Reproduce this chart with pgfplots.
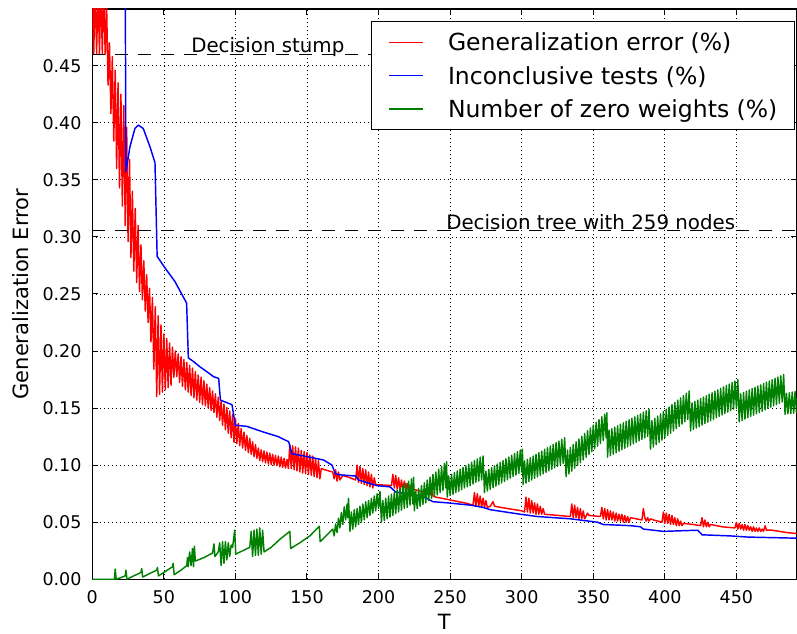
\documentclass[border=0pt]{standalone}
\usepackage{pgfplots}
\pgfplotsset{compat=1.18}
\usepackage{fontspec}
\setmainfont{DejaVu Sans}
\definecolor{mplgreen}{RGB}{0,128,0}
\definecolor{mplred}{RGB}{255,0,0}
\definecolor{mplblue}{RGB}{0,0,255}
\begin{document}
\begin{tikzpicture}
\useasboundingbox (0,0) rectangle (797bp,634bp);
\begin{axis}[
  at={(92.3bp,54.7bp)}, anchor=south west,
  scale only axis, width=704.2bp, height=570.3bp,
  xmin=0, xmax=492, ymin=0, ymax=0.4997,
  xtick={0,50,100,150,200,250,300,350,400,450},
  ytick={0,0.05,0.1,0.15,0.2,0.25,0.3,0.35,0.4,0.45},
  /pgf/number format/assume math mode=true,
  yticklabel style={/pgf/number format/.cd, fixed, fixed zerofill, precision=2, /tikz/.cd, anchor=east, inner sep=0pt, xshift=-10.6bp},
  xticklabel style={anchor=north, inner sep=0pt, yshift=-10.7bp},
  tick label style={font=\fontsize{17.5bp}{21bp}\selectfont},
  major tick length=6bp,
  tick style={black, line width=1bp},
  axis line style={black, line width=1.2bp},
  grid=major,
  major grid style={black, line width=0.7bp, dash pattern=on 1bp off 3bp},
  xlabel={T},
  xlabel style={at={(axis description cs:0.5,-0.0885)}, anchor=base, inner sep=0pt, font=\fontsize{21bp}{25bp}\selectfont},
  ylabel={Generalization Error},
  ylabel style={at={(axis description cs:-0.0913,0.5)}, anchor=base, inner sep=0pt, font=\fontsize{21bp}{25bp}\selectfont},
  every axis plot/.append style={line join=round},
  legend style={at={(1,1)}, anchor=north east, xshift=-1.5bp, yshift=-11.7bp,
    draw=black, line width=1.2bp, fill=white, inner xsep=17bp, inner ysep=9.5bp,
    font=\fontsize{23.5bp}{28bp}\selectfont, row sep=10.3bp, column sep=24.4bp,
    nodes={inner sep=0pt, text height=20bp, text depth=3bp, anchor=west},
    cells={anchor=west}},
  legend image code/.code={\draw[#1, line width=1.3bp] (0bp,0bp) -- (34bp,0bp);},
]
\addplot[mplred, line width=1.45bp] coordinates {
(0,0.52)(1,0.46)(2,0.52)(3,0.46)(4,0.52)(5,0.46)(6,0.52)(7,0.46)(8,0.52)(9,0.46)
(10,0.503)(11,0.433)(12,0.47)(13,0.408)(14,0.458)(15,0.384)(16,0.446)(17,0.36)(18,0.435)(19,0.343)(20,0.425)(21,0.327)(22,0.415)(23,0.31)
(24,0.396)(25,0.296)(26,0.368)(27,0.282)(28,0.34)(29,0.27)(30,0.325)(31,0.26)(32,0.31)(33,0.252)(34,0.293)(35,0.245)(36,0.279)(37,0.235)(38,0.267)(39,0.225)(40,0.255)(41,0.208)(42,0.247)(43,0.184)(44,0.239)(45,0.16)(46,0.231)(47,0.162)(48,0.223)(49,0.164)(50,0.215)(51,0.166)(52,0.211)(53,0.168)(54,0.207)(55,0.17)(56,0.2035)(57,0.177)(58,0.2)(59,0.1775)(60,0.1975)(61,0.1725)(62,0.195)
(63,0.169)(64,0.1925)(65,0.166)(66,0.19)(67,0.164)(68,0.1875)(69,0.161)(70,0.185)(71,0.159)(72,0.182)(73,0.157)(74,0.179)(75,0.155)(76,0.177)(77,0.153)(78,0.174)(79,0.152)(80,0.171)(81,0.15)(82,0.168)(83,0.148)(84,0.165)(85,0.146)(86,0.1625)(87,0.142)(88,0.1595)(89,0.139)(90,0.1565)(91,0.135)(92,0.1535)(93,0.131)(94,0.1505)(95,0.128)(96,0.1475)(97,0.124)(98,0.1445)(99,0.12)(100,0.141)(101,0.119)(102,0.1365)(103,0.117)(104,0.132)(105,0.115)(106,0.129)(107,0.113)(108,0.126)(109,0.111)(110,0.1235)(111,0.1095)(112,0.1205)(113,0.1075)(114,0.118)(115,0.106)(116,0.115)(117,0.104)
(118,0.1135)(119,0.103)(120,0.1125)(121,0.102)(122,0.1115)(123,0.101)(124,0.1105)(125,0.1005)(126,0.1095)(127,0.1)(128,0.1085)(129,0.0995)(130,0.108)(131,0.0985)(132,0.107)(133,0.098)(134,0.106)(135,0.0975)(136,0.105)(137,0.097)(138,0.118)(139,0.097)(140,0.117)(141,0.096)(142,0.116)(143,0.095)(144,0.115)(145,0.094)(146,0.113)(147,0.093)(148,0.112)(149,0.0925)(150,0.111)(151,0.092)(152,0.109)(153,0.091)(154,0.108)(155,0.09)(156,0.106)(157,0.089)(158,0.104)(159,0.088)
(160,0.097)(165,0.095)(168,0.094)(169,0.088)(170,0.096)(171,0.086)(172,0.094)(173,0.087)(175,0.091)(180,0.089)(184,0.087)
(185,0.1)(186,0.085)(187,0.099)(188,0.084)(189,0.097)(190,0.083)(191,0.096)(192,0.082)(193,0.094)(194,0.081)(195,0.092)(196,0.08)(197,0.089)(198,0.083)(205,0.0825)(209,0.082)
(210,0.092)(211,0.08)(212,0.091)(213,0.079)(214,0.089)(215,0.078)(216,0.087)(217,0.078)(218,0.086)(219,0.077)(220,0.084)(221,0.077)(222,0.082)(223,0.076)(224,0.079)(230,0.077)(236,0.074)(237,0.079)(238,0.073)(240,0.072)(250,0.0695)(260,0.067)(266,0.065)
(267,0.076)(268,0.064)(269,0.075)(270,0.064)(271,0.073)(272,0.063)(273,0.071)(274,0.063)(275,0.069)(276,0.063)(278,0.064)(280,0.068)(281,0.064)(290,0.062)(300,0.06)(302,0.059)
(303,0.072)(304,0.059)(305,0.071)(306,0.058)(307,0.069)(308,0.058)(309,0.067)(310,0.057)(311,0.066)(312,0.057)(313,0.064)(314,0.057)(315,0.062)(316,0.057)(325,0.056)(334,0.055)
(335,0.066)(336,0.054)(337,0.065)(338,0.054)(339,0.063)(340,0.053)(341,0.062)(342,0.053)(343,0.06)(344,0.053)(346,0.058)(347,0.056)(355,0.055)
(356,0.063)(357,0.053)(358,0.062)(359,0.052)(360,0.061)(361,0.052)(362,0.06)(363,0.052)(364,0.059)(365,0.051)(366,0.058)(367,0.051)(368,0.057)(369,0.051)(370,0.057)(371,0.05)(372,0.056)(373,0.05)(374,0.055)(375,0.05)(376,0.054)(380,0.053)(384,0.052)
(385,0.062)(386,0.054)(387,0.051)(388,0.054)(389,0.051)(390,0.053)(392,0.052)(395,0.051)(398,0.05)
(399,0.059)(400,0.049)(401,0.058)(402,0.049)(403,0.057)(404,0.048)(405,0.056)(406,0.048)(407,0.054)(408,0.047)(409,0.053)(410,0.047)(411,0.051)(412,0.047)(413,0.049)(420,0.048)(425,0.047)
(426,0.054)(427,0.046)(428,0.052)(429,0.046)(430,0.05)(431,0.046)(432,0.048)(440,0.046)(449,0.045)
(450,0.05)(451,0.044)(452,0.049)(453,0.044)(454,0.048)(455,0.043)(456,0.048)(457,0.043)(458,0.047)(459,0.043)(460,0.046)(461,0.042)(462,0.046)(463,0.042)(464,0.045)(465,0.042)(466,0.045)(467,0.042)(468,0.044)(469,0.042)(470,0.047)(471,0.043)(475,0.043)(485,0.041)(493,0.04)
};
\addlegendentry{Generalization error (\%)}
\addplot[mplblue, line width=1.45bp] coordinates {
(22.8,0.6)(23.5,0.357)(26.3,0.379)(29.8,0.395)(32.1,0.398)(35.6,0.395)(40.3,0.379)(43.8,0.365)(45.3,0.283)(50.7,0.273)(57.7,0.261)(62,0.251)(65.9,0.242)(67.1,0.194)(70.5,0.191)(75.4,0.186)(79.9,0.182)(84.8,0.1775)(88.3,0.176)(89.5,0.157)(97.6,0.153)(99.9,0.135)(108,0.134)(119.6,0.129)(130,0.125)(137.2,0.1205)(139.5,0.11)(150,0.1075)(161.6,0.1045)(167.5,0.1)(169.8,0.0925)(173.3,0.0915)(184,0.0905)(186,0.087)(199,0.082)(208,0.081)(212,0.0765)(224.6,0.074)(232,0.072)(238,0.068)(248,0.067)(264,0.065)(273,0.063)(278,0.061)(299,0.057)(311,0.055)(334,0.053)(353,0.05)(357,0.048)(376,0.047)(383,0.046)(385,0.044)(399,0.042)(423,0.043)(426,0.039)(446,0.038)(458,0.037)(493,0.036)
};
\addlegendentry{Inconclusive tests (\%)}
\addplot[mplgreen, line width=1.45bp] coordinates {
(0,0)(15.5,0)(16,0.009)(16.7,0)(19,0.001)(23,0.003)(23.5,0.008)(24.2,0)(29,0.003)(34,0.006)(34.5,0.0095)(35.2,0.002)(40,0.005)(45,0.008)(45.5,0.0105)(46.2,0.003)(50,0.006)(56,0.011)(56.5,0.014)(57.2,0.004)(62,0.008)(66,0.012)(66.5,0.019)(67,0.011)(68,0.024)(69,0.012)(70,0.027)(70.7,0.011)(71.3,0.029)(72,0.016)(78,0.019)(84,0.023)(85,0.031)(85.7,0.02)(88,0.024)(89,0.032)(90,0.012)(91,0.033)(92,0.014)(93,0.033)(94,0.017)(95,0.032)(96,0.02)(97,0.03)(98,0.028)(99.5,0.043)(100.2,0.022)(105,0.025)(110,0.028)(111,0.042)(112,0.02)(113,0.043)(114,0.021)(115,0.044)(116,0.021)(117,0.045)(118,0.022)(119,0.043)(120,0.024)(125,0.028)(131,0.035)(138,0.042)(138.6,0.027)(145,0.032)(152,0.038)(158.6,0.0465)(159.2,0.033)(168,0.044)
(169,0.038)(170,0.0485)(171,0.041)(172,0.0535)(173,0.045)(174,0.0585)(175,0.048)(176,0.0635)(177,0.052)(178,0.066)(178.5,0.054)(179,0.071)
(180,0.042)(181,0.059)(182,0.044)(183,0.061)(184,0.046)(185,0.062)(186,0.048)(187,0.064)(188,0.05)(189,0.066)(190,0.052)(191,0.068)(192,0.054)(193,0.069)(194,0.056)(195,0.071)(196,0.058)(197,0.073)(198,0.06)(199,0.075)(200,0.062)(201,0.077)
(202,0.05)(203,0.069)(204,0.0515)(205,0.071)(206,0.053)(207,0.073)(208,0.0545)(209,0.0745)(210,0.056)(211,0.0765)(212,0.0575)(213,0.078)(214,0.059)(215,0.08)(216,0.0605)(217,0.082)(218,0.062)(219,0.084)(220,0.063)(221,0.086)(222,0.065)(223,0.088)(224,0.066)(224.5,0.0895)
(225,0.06)(226,0.077)(227,0.062)(228,0.0795)(229,0.064)(230,0.082)(231,0.0655)(232,0.0845)(233,0.067)(234,0.087)(235,0.069)(236,0.0895)(237,0.071)(238,0.092)(239,0.0725)(240,0.094)(241,0.074)(242,0.0965)(243,0.076)(244,0.099)(245,0.078)(246,0.1015)(247,0.08)(247.5,0.103)
(248,0.072)(249,0.0905)(250,0.0735)(251,0.092)(252,0.0745)(253,0.0935)(254,0.076)(255,0.095)(256,0.077)(257,0.0965)(258,0.0785)(259,0.098)(260,0.08)(261,0.0995)(262,0.081)(263,0.101)(264,0.082)(265,0.1025)(266,0.0835)(267,0.104)(268,0.085)(269,0.1055)(270,0.086)(271,0.107)(272,0.087)(273,0.108)
(274,0.076)(275,0.0948)(276,0.0774)(277,0.0963)(278,0.0788)(279,0.0979)(280,0.0802)(281,0.0994)(282,0.0816)(283,0.101)(284,0.083)(285,0.1025)(286,0.0844)(287,0.104)(288,0.0858)(289,0.1056)(290,0.0872)(291,0.1071)(292,0.0886)(293,0.1087)(294,0.09)(295,0.1102)(296,0.0914)(297,0.1117)(298,0.0928)(299,0.1133)(300,0.094)(300.5,0.114)
(301,0.083)(302,0.1037)(303,0.0843)(304,0.1052)(305,0.0857)(306,0.1066)(307,0.087)(308,0.1081)(309,0.0884)(310,0.1095)(311,0.0897)(312,0.111)(313,0.091)(314,0.1124)(315,0.0924)(316,0.1139)(317,0.0937)(318,0.1153)(319,0.095)(320,0.1168)(321,0.0964)(322,0.1182)(323,0.0977)(324,0.1197)(325,0.099)(326,0.1211)(327,0.1004)(328,0.1226)(329,0.1017)(330,0.124)
(331,0.09)(332,0.1132)(333,0.0924)(334,0.1156)(335,0.0948)(336,0.1181)(337,0.0973)(338,0.1205)(339,0.0997)(340,0.1229)(341,0.1021)(342,0.1254)(343,0.1046)(344,0.1278)(345,0.107)(346,0.1302)(347,0.1094)(348,0.1326)(349,0.1119)(350,0.1351)(351,0.1143)(352,0.1375)(353,0.1167)(354,0.1399)(355,0.1191)(356,0.1424)(357,0.1216)(358,0.1448)(359,0.124)(359.5,0.146)
(360,0.107)(361,0.1307)(362,0.1083)(363,0.132)(364,0.1096)(365,0.1333)(366,0.1109)(367,0.1346)(368,0.1122)(369,0.1359)(370,0.1135)(371,0.1372)(372,0.1148)(373,0.1385)(374,0.1161)(375,0.1398)(376,0.1174)(377,0.1411)(378,0.1187)(379,0.1424)(380,0.12)(381,0.1437)(382,0.1213)(383,0.145)(384,0.1226)(385,0.1463)(386,0.1239)(387,0.1476)(388,0.1252)(389,0.149)
(390,0.114)(391,0.139)(392,0.116)(393,0.141)(394,0.118)(395,0.143)(396,0.12)(397,0.145)(398,0.122)(399,0.147)(400,0.124)(401,0.149)(402,0.126)(403,0.151)(404,0.128)(405,0.153)(406,0.13)(407,0.155)(408,0.132)(409,0.157)(410,0.134)(411,0.159)(412,0.136)(413,0.161)(414,0.138)(415,0.163)(416,0.14)(417,0.165)
(418,0.13)(419,0.1546)(420,0.1313)(421,0.1559)(422,0.1325)(423,0.1571)(424,0.1338)(425,0.1584)(426,0.1351)(427,0.1597)(428,0.1364)(429,0.1609)(430,0.1376)(431,0.1622)(432,0.1389)(433,0.1635)(434,0.1402)(435,0.1648)(436,0.1415)(437,0.166)(438,0.1427)(439,0.1673)(440,0.144)(441,0.1686)(442,0.1453)(443,0.1699)(444,0.1465)(445,0.1711)(446,0.1478)(447,0.1724)(448,0.1491)(449,0.1737)(450,0.15)(451,0.175)
(452,0.138)(453,0.1626)(454,0.1392)(455,0.1637)(456,0.1403)(457,0.1648)(458,0.1415)(459,0.1659)(460,0.1427)(461,0.1671)(462,0.1438)(463,0.1682)(464,0.145)(465,0.1693)(466,0.1461)(467,0.1704)(468,0.1473)(469,0.1716)(470,0.1485)(471,0.1727)(472,0.1496)(473,0.1738)(474,0.1508)(475,0.1749)(476,0.152)(477,0.1761)(478,0.1531)(479,0.1772)(480,0.1543)(481,0.1783)(482,0.1555)(483,0.1795)
(484,0.1445)(485,0.163)(486,0.145)(487,0.1635)(488,0.1452)(489,0.164)(490,0.1455)(491,0.1645)(492,0.146)(493,0.165)
};
\addlegendentry{Number of zero weights (\%)}
\addplot[black, line width=1.3bp, dash pattern=on 13bp off 10bp, forget plot] coordinates {(0,0.46)(492,0.46)};
\addplot[black, line width=1.3bp, dash pattern=on 13bp off 10bp, forget plot] coordinates {(0,0.3054)(492,0.3054)};
\node[anchor=base west, inner sep=0pt, font=\fontsize{19.8bp}{24bp}\selectfont] at (axis cs:69.0,0.4614) {Decision stump};
\node[anchor=base west, inner sep=0pt, font=\fontsize{19.8bp}{24bp}\selectfont] at (axis cs:247.2,0.3069) {Decision tree with 259 nodes};
\end{axis}
\end{tikzpicture}
\end{document}
